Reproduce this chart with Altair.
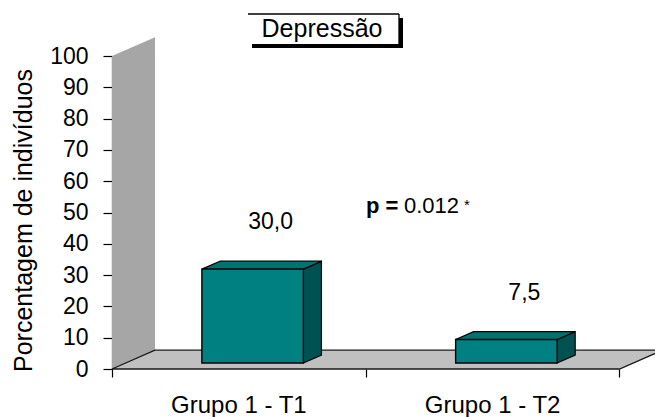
import altair as alt
import pandas as pd

# Values
categories = ["Grupo 1 - T1", "Grupo 1 - T2"]
values = [30.0, 7.5]
y_ticks = list(range(0, 101, 10))
title_text = "Depressão"
y_title = "Porcentagem de indivíduos"
p_label = "p ="
p_value = "0.012"

FONT = "Liberation Sans"

# Oblique projection of the depth axis, expressed in data units
DX = 0.1695   # category units per full depth
DY = 6.0      # percent units per full depth
FRONT = 0.32  # depth at which the bar front sits
DEPTH = 0.42  # bar depth
HALF = 0.2    # half bar width (category units)

n = len(categories)

front_rows, side_rows, top_rows, label_rows, cat_rows = [], [], [], [], []
for i, (cat, v) in enumerate(zip(categories, values)):
    c = i + 0.5
    xl = c - HALF + FRONT * DX
    xr = c + HALF + FRONT * DX
    yb = FRONT * DY
    yt = v + FRONT * DY
    front_rows.append(dict(cat=cat, x=xl, x2=xr, y=yb, y2=yt))
    side_rows += [
        dict(cat=cat, x=xr, y=yb, y2=yt),
        dict(cat=cat, x=xr + DEPTH * DX, y=yb + DEPTH * DY, y2=yt + DEPTH * DY),
    ]
    top_rows += [
        dict(cat=cat, y=yt, x=xl, x2=xr),
        dict(cat=cat, y=yt + DEPTH * DY, x=xl + DEPTH * DX, x2=xr + DEPTH * DX),
    ]
    label_rows.append(dict(cat=cat, x=c + 0.125, y=yt, text=f"{v:.1f}".replace(".", ",")))
    cat_rows.append(dict(cat=cat, x=c, y=0.0))

wall = pd.DataFrame([dict(x=0.0, y=0.0, y2=100.0), dict(x=DX, y=DY, y2=100.0 + DY)])
floor = pd.DataFrame([dict(y=0.0, x=0.0, x2=float(n)), dict(y=DY, x=DX, x2=n + DX)])
front = pd.DataFrame(front_rows)
side = pd.DataFrame(side_rows)
top = pd.DataFrame(top_rows)
labels = pd.DataFrame(label_rows)
cats = pd.DataFrame(cat_rows)
one = pd.DataFrame({"k": [0]})

xs = alt.Scale(domain=[0, 2.14], nice=False, zero=False)
ys = alt.Scale(domain=[0, 100], nice=False, zero=False)

y_axis = alt.Axis(
    values=y_ticks, grid=False, tickSize=9, labelPadding=15,
    labelFont=FONT, labelFontSize=23, labelColor="black",
    domainColor="black", tickColor="black", domainWidth=1.2, tickWidth=1.2,
    title=y_title, titleFont=FONT, titleFontSize=25, titleFontWeight="normal",
    titleColor="black", titleAngle=-90, titleX=-89, titleY=164,
    titleAlign="center", titleBaseline="middle",
)
x_axis = alt.Axis(
    values=list(range(n + 1)), grid=False, labels=False, domain=False,
    tickSize=8, tickColor="black", tickWidth=1.2, title=None,
)


def X(field="x:Q"):
    return alt.X(field, scale=xs, axis=x_axis)


def Y(field="y:Q"):
    return alt.Y(field, scale=ys, axis=y_axis)


wall_layer = alt.Chart(wall).mark_area(color="#a6a6a6", orient="vertical").encode(
    x=X(), y=Y(), y2="y2:Q",
)

floor_layer = alt.Chart(floor).mark_area(
    color="#c0c0c0", orient="horizontal", stroke="#1a1a1a", strokeWidth=1.3
).encode(y=Y(), x=X(), x2="x2:Q")

side_layer = alt.Chart(side).mark_area(
    color="#005252", orient="vertical", stroke="black", strokeWidth=1.2
).encode(x=X(), y=Y(), y2="y2:Q", detail="cat:N")

top_layer = alt.Chart(top).mark_area(
    color="#007272", orient="horizontal", stroke="black", strokeWidth=1.2
).encode(y=Y(), x=X(), x2="x2:Q", detail="cat:N")

front_layer = alt.Chart(front).mark_rect(
    color="#008080", stroke="black", strokeWidth=1.4
).encode(x=X(), x2="x2:Q", y=Y(), y2="y2:Q")

value_labels = alt.Chart(labels).mark_text(
    font=FONT, fontSize=23, color="black", baseline="middle", dy=-47
).encode(x=X(), y=Y(), text="text:N")

cat_labels = alt.Chart(cats).mark_text(
    font=FONT, fontSize=24, color="black", baseline="alphabetic", dy=44
).encode(x=X(), y=Y(), text="cat:N")

# Boxed title with a drop shadow
title_shadow = alt.Chart(one).mark_rect(color="black").encode(
    x=alt.value(140), x2=alt.value(291), y=alt.value(-38), y2=alt.value(-8)
)
title_box = alt.Chart(one).mark_rect(color="white").encode(
    x=alt.value(136), x2=alt.value(287), y=alt.value(-42), y2=alt.value(-12)
)
title_top = alt.Chart(one).mark_rule(color="black", strokeWidth=1.3).encode(
    x=alt.value(136), x2=alt.value(287), y=alt.value(-42)
)
title_right = alt.Chart(one).mark_rule(color="black", strokeWidth=1.3).encode(
    x=alt.value(287), y=alt.value(-42), y2=alt.value(-12)
)
title_label = alt.Chart(one).mark_text(
    font=FONT, fontSize=25, color="black", baseline="alphabetic", align="center"
).encode(x=alt.value(210), y=alt.value(-19), text=alt.value(title_text))

# Significance note
p_bold = alt.Chart(one).mark_text(
    font=FONT, fontSize=22, fontWeight="bold", color="black", align="left", baseline="alphabetic"
).encode(x=alt.value(254), y=alt.value(157), text=alt.value(p_label))
p_num = alt.Chart(one).mark_text(
    font=FONT, fontSize=22, color="black", align="left", baseline="alphabetic"
).encode(x=alt.value(292), y=alt.value(157), text=alt.value(p_value))
p_star = alt.Chart(one).mark_text(
    font=FONT, fontSize=15, color="black", align="center", baseline="alphabetic"
).encode(x=alt.value(355), y=alt.value(154), text=alt.value("*"))

chart = alt.layer(
    wall_layer, floor_layer, side_layer, top_layer, front_layer,
    value_labels, cat_labels,
    title_shadow, title_box, title_top, title_right, title_label,
    p_bold, p_num, p_star,
).properties(
    width=543,
    height=313,
    padding={"left": 112, "top": 56, "right": 0, "bottom": 48},
    autosize=alt.AutoSizeParams(type="none"),
    background="white",
).configure_view(stroke=None)

chart.save("out.html", embed_options={"renderer": "svg", "actions": False})
